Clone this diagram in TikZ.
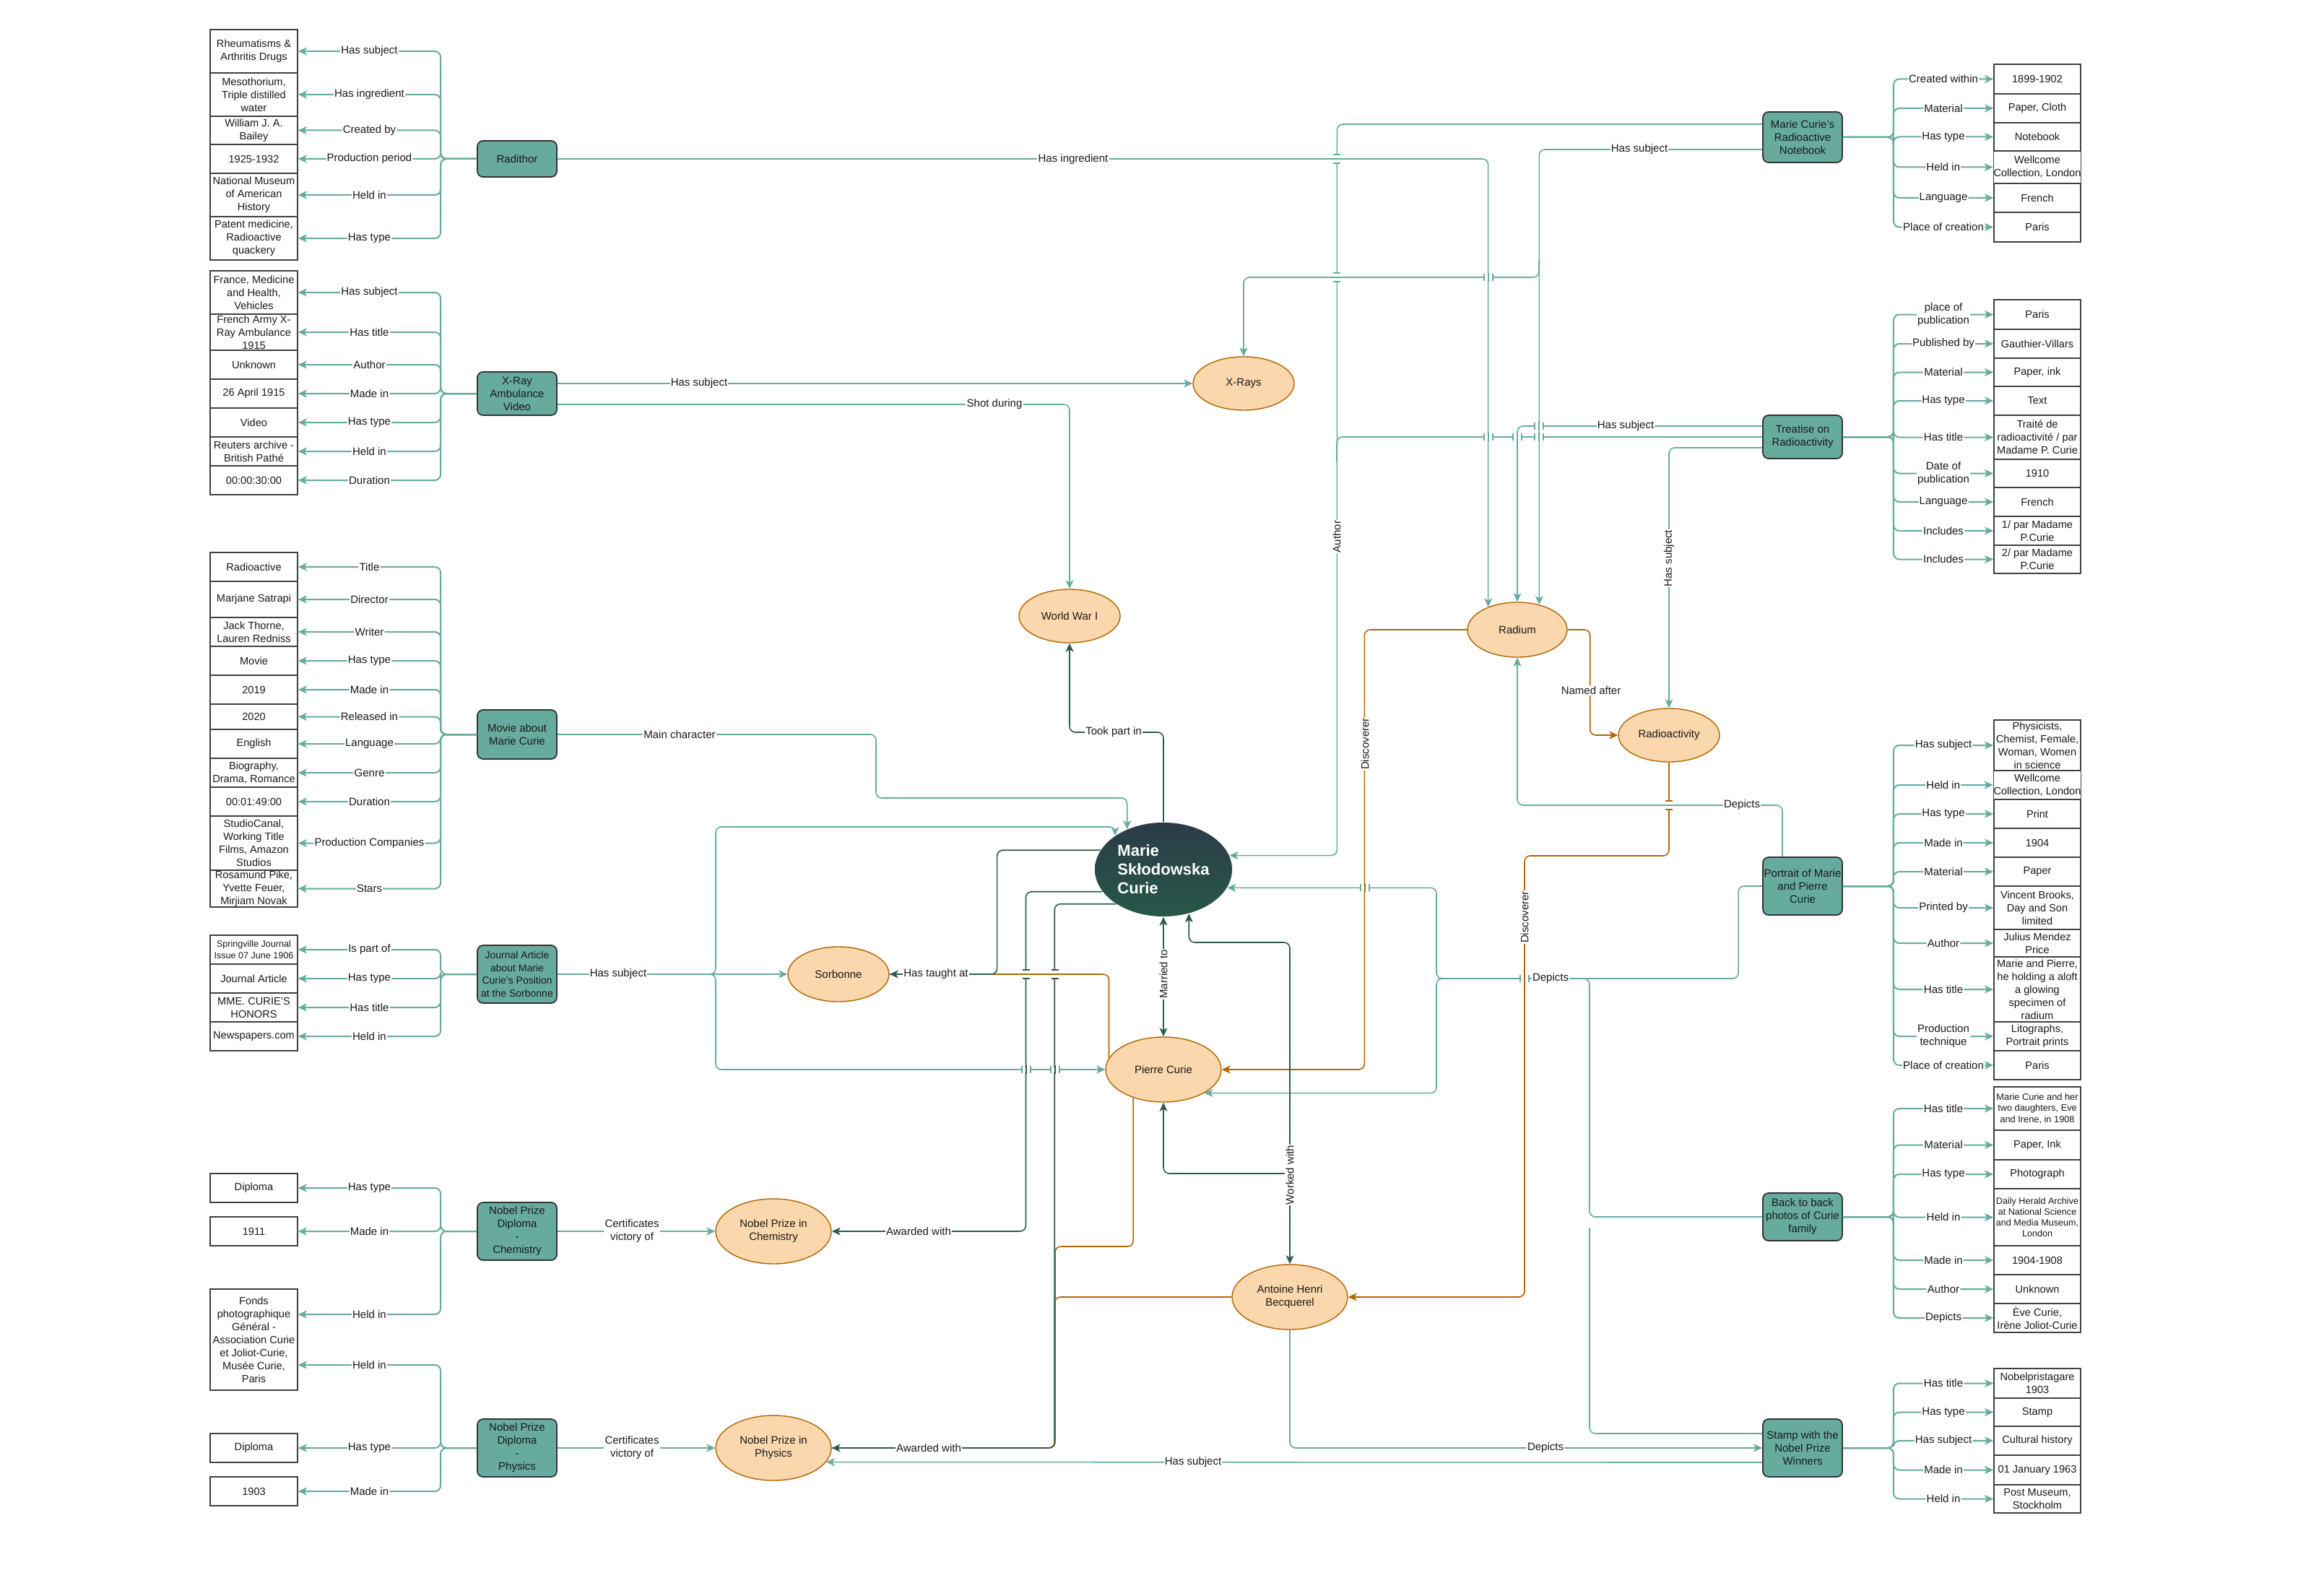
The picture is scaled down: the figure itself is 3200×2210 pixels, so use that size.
\documentclass[tikz,border=0pt]{standalone}
\usepackage{fontspec}
\setmainfont{Liberation Sans}
\usetikzlibrary{arrows.meta,shapes.geometric,calc}
\definecolor{tealE}{HTML}{67AB9F}
\definecolor{darkE}{HTML}{2E5B4F}
\definecolor{orngE}{HTML}{B46504}
\definecolor{peach}{HTML}{FAD7AC}
\definecolor{txtc}{HTML}{1A1A1A}
\definecolor{mtop}{HTML}{2B3B47}
\definecolor{mbot}{HTML}{27584A}
\tikzset{
 valbox/.style={draw=black!75, line width=0.9pt, fill=white, minimum width=60.5pt, inner sep=0pt, align=center, font=\fontsize{7.3}{9}\selectfont, text=txtc},
 rvb/.style={minimum width=60pt},
 grpnode/.style={draw=black!80, line width=0.9pt, fill=tealE, rounded corners=4pt, minimum width=55pt, inner sep=0pt, align=center, font=\fontsize{7.5}{9}\selectfont, text=txtc},
 ent/.style={ellipse, draw=orngE, line width=0.7pt, fill=peach, inner sep=0pt, align=center, font=\fontsize{7.5}{9}\selectfont, text=txtc},
 gedge/.style={draw=tealE, line width=1pt, rounded corners=4pt, ->},
 tline/.style={draw=tealE, line width=0.8pt, rounded corners=4pt},
 tedge/.style={tline, ->},
 dedge/.style={draw=darkE, line width=0.8pt, rounded corners=4pt, ->},
 oline/.style={draw=orngE, line width=0.8pt, rounded corners=4pt},
 oedge/.style={oline, ->},
 glbl/.style={fill=white, inner sep=0.6pt, font=\fontsize{7.5}{9}\selectfont, text=txtc, align=center},
 clbl/.style={glbl},
}
\newcommand\lb[4]{\node[valbox,minimum height={(#3-#2)*0.5pt}] (#1) at (351.5,{(#2+#3)/2}) {#4};}
\newcommand\rb[4]{\node[valbox,rvb,minimum height={(#3-#2)*0.5pt}] (#1) at (2821,{(#2+#3)/2}) {#4};}
\newcommand\ledge[3]{\draw[gedge] (#1.west) -- ++(-50,0) |- (#2.east) node[glbl,pos=0.75]{#3};}
\newcommand\redge[3]{\draw[gedge] (#1.east) -- ++(70,0) |- (#2.west) node[glbl,pos=0.75]{#3};}
\newcommand\hhop[4]{%
  \fill[white] ({#1-6},{#2-2.5}) rectangle ({#1+6},{#2+2.5});
  \draw[#4, line width=0.8pt] (#1,{#2-6}) -- (#1,{#2+6});
  \draw[#3, line width=0.8pt] ({#1-6},{#2-5}) -- ({#1-6},{#2+5}) ({#1+6},{#2-5}) -- ({#1+6},{#2+5});}
\newcommand\vhop[4]{%
  \fill[white] ({#1-2.5},{#2-6}) rectangle ({#1+2.5},{#2+6});
  \draw[#4, line width=0.8pt] ({#1-6},#2) -- ({#1+6},#2);
  \draw[#3, line width=0.8pt] ({#1-5},{#2-6}) -- ({#1+5},{#2-6}) ({#1-5},{#2+6}) -- ({#1+5},{#2+6});}
\begin{document}
\begin{tikzpicture}[x=0.5pt,y=-0.5pt,>={Stealth[length=6pt,width=5.5pt,inset=1.6pt]}]
\fill[white] (0,0) rectangle (3200,2210);
\useasboundingbox (0,0) rectangle (3200,2210);

% ---------- left groups ----------
\node[grpnode,minimum height=25pt] (radithor) at (716,220) {Radithor};
\lb{ra1}{41}{101}{Rheumatisms \&\\Arthritis Drugs}
\lb{ra2}{101}{161}{Mesothorium,\\Triple distilled\\water}
\lb{ra3}{161}{200}{William J. A.\\Bailey}
\lb{ra4}{200}{240}{1925-1932}
\lb{ra5}{240}{300}{National Museum\\of American\\History}
\lb{ra6}{300}{360}{Patent medicine,\\Radioactive\\quackery}

\node[grpnode,minimum height=30pt] (xrayvid) at (716,545) {X-Ray\\Ambulance\\Video};
\lb{xv1}{375}{435}{France, Medicine\\and Health,\\Vehicles}
\lb{xv2}{435}{485}{French Army X-\\Ray Ambulance\\1915}
\lb{xv3}{485}{525}{Unknown}
\lb{xv4}{525}{565}{26 April 1915}
\lb{xv5}{565}{605}{Video}
\lb{xv6}{605}{645}{Reuters archive -\\British Pathé}
\lb{xv7}{645}{685}{00:00:30:00}

\node[grpnode,minimum height=34pt] (movie) at (716,1017) {Movie about\\Marie Curie};
\lb{mv1}{765}{805}{Radioactive}
\lb{mv2}{805}{855}{Marjane Satrapi}
\lb{mv3}{855}{895}{Jack Thorne,\\Lauren Redniss}
\lb{mv4}{895}{935}{Movie}
\lb{mv5}{935}{975}{2019}
\lb{mv6}{975}{1010}{2020}
\lb{mv7}{1010}{1050}{English}
\lb{mv8}{1050}{1090}{Biography,\\Drama, Romance}
\lb{mv9}{1090}{1130}{00:01:49:00}
\lb{mv10}{1130}{1205}{StudioCanal,\\Working Title\\Films, Amazon\\Studios}
\lb{mv11}{1205}{1256}{Rosamund Pike,\\Yvette Feuer,\\Mirjiam Novak}

\node[grpnode,minimum height=40pt,font=\fontsize{7}{8.7}\selectfont] (journal) at (716,1349) {Journal Article\\about Marie\\Curie's Position\\at the Sorbonne};
\node[valbox,minimum height=20pt,font=\fontsize{6.3}{8}\selectfont] (jo1) at (351.5,1315) {Springville Journal\\Issue 07 June 1906};
\lb{jo2}{1335}{1375}{Journal Article}
\lb{jo3}{1375}{1415}{MME. CURIE'S\\HONORS}
\lb{jo4}{1415}{1455}{Newspapers.com}

\node[grpnode,minimum height=40pt] (dipchem) at (716,1705) {Nobel Prize\\Diploma\\-\\Chemistry};
\lb{dc1}{1625}{1665}{Diploma}
\lb{dc2}{1685}{1725}{1911}
\lb{fonds}{1785}{1925}{Fonds\\photographique\\Général -\\Association Curie\\et Joliot-Curie,\\Musée Curie,\\Paris}
\node[grpnode,minimum height=40pt] (dipphys) at (716,2005) {Nobel Prize\\Diploma\\-\\Physics};
\lb{dp1}{1985}{2025}{Diploma}
\lb{dp2}{2045}{2085}{1903}

% ---------- right groups ----------
\node[grpnode,minimum height=35pt] (notebook) at (2496,190) {Marie Curie's\\Radioactive\\Notebook};
\rb{nb1}{89}{130}{1899-1902}
\rb{nb2}{130}{170}{Paper, Cloth}
\rb{nb3}{170}{209}{Notebook}
\rb{nb4}{209}{254}{Wellcome\\Collection, London}
\rb{nb5}{254}{294}{French}
\rb{nb6}{294}{335}{Paris}

\node[grpnode,minimum height=30pt] (treatise) at (2496,605) {Treatise on\\Radioactivity};
\rb{tr1}{415}{456}{Paris}
\rb{tr2}{456}{496}{Gauthier-Villars}
\rb{tr3}{496}{535}{Paper, ink}
\rb{tr4}{535}{575}{Text}
\rb{tr5}{575}{636}{Traité de\\radioactivité / par\\Madame P. Curie}
\rb{tr6}{636}{675}{1910}
\rb{tr7}{675}{715}{French}
\rb{tr8}{715}{755}{1/ par Madame\\P.Curie}
\rb{tr9}{755}{794}{2/ par Madame\\P.Curie}

\node[grpnode,minimum height=40pt] (portrait) at (2496,1227) {Portrait of Marie\\and Pierre\\Curie};
\rb{po1}{997}{1067}{Physicists,\\Chemist, Female,\\Woman, Women\\in science}
\rb{po2}{1067}{1107}{Wellcome\\Collection, London}
\rb{po3}{1107}{1147}{Print}
\rb{po4}{1147}{1187}{1904}
\rb{po5}{1187}{1227}{Paper}
\rb{po6}{1227}{1287}{Vincent Brooks,\\Day and Son\\limited}
\rb{po7}{1287}{1325}{Julius Mendez\\Price}
\rb{po8}{1325}{1415}{Marie and Pierre,\\he holding a aloft\\a glowing\\specimen of\\radium}
\rb{po9}{1415}{1455}{Litographs,\\Portrait prints}
\rb{po10}{1455}{1495}{Paris}

\node[grpnode,minimum height=33pt] (backphoto) at (2496,1685) {Back to back\\photos of Curie\\family};
\node[valbox,rvb,minimum height=30pt,font=\fontsize{6.4}{7.8}\selectfont] (bp1) at (2821,1535) {Marie Curie and her\\two daughters, Eve\\and Irene, in 1908};
\rb{bp2}{1565}{1606}{Paper, Ink}
\rb{bp3}{1606}{1646}{Photograph}
\node[valbox,rvb,minimum height=39.5pt,font=\fontsize{6.3}{7.6}\selectfont] (bp4) at (2821,1685.5) {Daily Herald Archive\\at National Science\\and Media Museum,\\London};
\rb{bp5}{1725}{1765}{1904-1908}
\rb{bp6}{1765}{1805}{Unknown}
\rb{bp7}{1805}{1845}{Ève Curie,\\Irène Joliot-Curie}

\node[grpnode,minimum height=40pt] (stamp) at (2496,2005) {Stamp with the\\Nobel Prize\\Winners};
\rb{st1}{1895}{1936}{Nobelpristagare\\1903}
\rb{st2}{1936}{1975}{Stamp}
\rb{st3}{1975}{2015}{Cultural history}
\rb{st4}{2015}{2056}{01 January 1963}
\rb{st5}{2056}{2095}{Post Museum,\\Stockholm}

% ---------- entities ----------
\node[ent, draw=none, top color=mtop, bottom color=mbot, minimum width=95pt, minimum height=65pt, text=white, font=\bfseries\fontsize{11}{13}\selectfont, align=left] (marie) at (1611,1204) {Marie\\Skłodowska\\Curie};
\node[ent, minimum width=80pt, minimum height=45pt] (pierre) at (1611,1481) {Pierre Curie};
\node[ent, minimum width=80pt, minimum height=45pt] (antoine) at (1786,1796) {Antoine Henri\\Becquerel};
\node[ent, minimum width=69pt, minimum height=38pt] (radium) at (2101,872) {Radium};
\node[ent, minimum width=70pt, minimum height=37pt] (radioact) at (2311,1018) {Radioactivity};
\node[ent, minimum width=70pt, minimum height=37pt] (xrays) at (1722,531) {X-Rays};
\node[ent, minimum width=70pt, minimum height=37pt] (wwi) at (1481,853) {World War I};
\node[ent, minimum width=70pt, minimum height=38pt] (sorbonne) at (1161,1349) {Sorbonne};
\node[ent, minimum width=80pt, minimum height=45pt] (nobchem) at (1071,1705) {Nobel Prize in\\Chemistry};
\node[ent, minimum width=80pt, minimum height=45pt] (nobphys) at (1071,2005) {Nobel Prize in\\Physics};

% ---------- group edges ----------
\ledge{radithor}{ra1}{Has subject}
\ledge{radithor}{ra2}{Has ingredient}
\ledge{radithor}{ra3}{Created by}
\ledge{radithor}{ra4}{Production period}
\ledge{radithor}{ra5}{Held in}
\ledge{radithor}{ra6}{Has type}

\ledge{xrayvid}{xv1}{Has subject}
\ledge{xrayvid}{xv2}{Has title}
\ledge{xrayvid}{xv3}{Author}
\ledge{xrayvid}{xv4}{Made in}
\ledge{xrayvid}{xv5}{Has type}
\ledge{xrayvid}{xv6}{Held in}
\ledge{xrayvid}{xv7}{Duration}

\ledge{movie}{mv1}{Title}
\ledge{movie}{mv2}{Director}
\ledge{movie}{mv3}{Writer}
\ledge{movie}{mv4}{Has type}
\ledge{movie}{mv5}{Made in}
\ledge{movie}{mv6}{Released in}
\ledge{movie}{mv7}{Language}
\ledge{movie}{mv8}{Genre}
\ledge{movie}{mv9}{Duration}
\ledge{movie}{mv10}{Production Companies}
\ledge{movie}{mv11}{Stars}

\ledge{journal}{jo1}{Is part of}
\ledge{journal}{jo2}{Has type}
\ledge{journal}{jo3}{Has title}
\ledge{journal}{jo4}{Held in}

\ledge{dipchem}{dc1}{Has type}
\ledge{dipchem}{dc2}{Made in}
\draw[gedge] (dipchem.west) -- ++(-50,0) |- ($(fonds.east)+(0,-35)$) node[glbl,pos=0.75]{Held in};
\draw[gedge] (dipphys.west) -- ++(-50,0) |- ($(fonds.east)+(0,35)$) node[glbl,pos=0.75]{Held in};
\ledge{dipphys}{dp1}{Has type}
\ledge{dipphys}{dp2}{Made in}

\redge{notebook}{nb1}{Created within}
\redge{notebook}{nb2}{Material}
\redge{notebook}{nb3}{Has type}
\redge{notebook}{nb4}{Held in}
\redge{notebook}{nb5}{Language}
\redge{notebook}{nb6}{Place of creation}

\redge{treatise}{tr1}{place of\\publication}
\redge{treatise}{tr2}{Published by}
\redge{treatise}{tr3}{Material}
\redge{treatise}{tr4}{Has type}
\redge{treatise}{tr5}{Has title}
\redge{treatise}{tr6}{Date of\\publication}
\redge{treatise}{tr7}{Language}
\redge{treatise}{tr8}{Includes}
\redge{treatise}{tr9}{Includes}

\redge{portrait}{po1}{Has subject}
\redge{portrait}{po2}{Held in}
\redge{portrait}{po3}{Has type}
\redge{portrait}{po4}{Made in}
\redge{portrait}{po5}{Material}
\redge{portrait}{po6}{Printed by}
\redge{portrait}{po7}{Author}
\redge{portrait}{po8}{Has title}
\redge{portrait}{po9}{Production\\technique}
\redge{portrait}{po10}{Place of creation}

\redge{backphoto}{bp1}{Has title}
\redge{backphoto}{bp2}{Material}
\redge{backphoto}{bp3}{Has type}
\redge{backphoto}{bp4}{Held in}
\redge{backphoto}{bp5}{Made in}
\redge{backphoto}{bp6}{Author}
\redge{backphoto}{bp7}{Depicts}

\redge{stamp}{st1}{Has title}
\redge{stamp}{st2}{Has type}
\redge{stamp}{st3}{Has subject}
\redge{stamp}{st4}{Made in}
\redge{stamp}{st5}{Held in}

% ---------- central teal edges ----------
\draw[tedge] (radithor.east) -| (radium.142);
\draw[tedge] (xrayvid.east |- xrays.west) -- (xrays.west);
\draw[tedge] ([yshift=-7.5pt]xrayvid.east) -| (wwi.north);
\draw[tedge] (movie.east) -| (1213,1105) -| (marie.132);
\draw[tedge] (journal.east) -- (sorbonne.west);
\coordinate (jJ) at (971,1349);
\draw[tedge] (jJ) -- ++(20,0) |- (1544,1145) -- (marie.145.5);
\draw[tedge] (jJ) -- ++(20,0) |- (pierre.west);
\draw[tedge] ([yshift=9pt]notebook.west) -| ($(marie.12)+(149,0)$) -- (marie.12);
\draw[tline] (treatise.west) -| (1851,640);
\draw[tedge] ([yshift=-8.5pt]notebook.west) -| (radium.49);
\coordinate (jN) at (2131,360);
\draw[tedge] (jN) -- (2131,384) -| (xrays.north);
\draw[tedge] ([yshift=7.5pt]treatise.west) -| (radium.north);
\draw[tedge] ([yshift=-7.5pt]treatise.west) -| (radioact.north);
\draw[tedge] ([xshift=-14pt]portrait.north) |- (2300,1115) -| (radium.south);
\coordinate (jD) at (2009,1355);
\draw[tline] (portrait.west) -- ++(-33,0) |- (jD);
\draw[tedge] (jD) -- ++(-20,0) |- (marie.-16);
\draw[tedge] (jD) -- ++(-20,0) |- (pierre.-30);
\draw[tline] (backphoto.west) -| (2201,1355) -- (2170,1355);
\draw[tline] ([yshift=10pt]stamp.west) -| (2201,1700);
\draw[tedge] (antoine.south) |- (stamp.west);
\draw[tedge] ([yshift=-10pt]stamp.west) -- (nobphys.-15.6);
\draw[tedge] (dipchem.east) -- (nobchem.west);
\draw[tedge] (dipphys.east) -- (nobphys.west);

% ---------- orange edges ----------
\draw[oedge] (radium.west) -- ++(-142,0) |- (pierre.east);
\draw[oedge] (radium.east) -- ++(31,0) |- (radioact.west);
\draw[oedge] (radioact.south) |- (2111,1185) |- (antoine.east);
\draw[oline] (pierre.168) |- (sorbonne.east);
\draw[oline] (pierre.223) |- (1461,1726) |- (nobphys.east);
\draw[oline] (antoine.west) -- ++(-245,0) |- (nobphys.east);

% ---------- dark edges ----------
\draw[dedge] (marie.north) |- (1500,1014) -| (wwi.south);
\draw[dedge,<->] (marie.south) -- (pierre.north);
\draw[dedge] (marie.163) -- ++(-143,0) |- (sorbonne.east);
\draw[dedge] (marie.200) -- ++(-106,0) |- (nobchem.east);
\draw[dedge] (marie.216) -- ++(-85,0) |- (nobphys.east);
\draw[dedge,<->] (marie.-60) |- (1700,1305) -| (antoine.north);
\coordinate (jW) at (1786,1625);
\draw[dedge] (jW) -| (pierre.south);

% ---------- line hops ----------
\vhop{1851}{220}{tealE}{tealE}
\vhop{1851}{384}{tealE}{tealE}
\hhop{2061}{384}{tealE}{tealE}
\hhop{2061}{605}{tealE}{tealE}
\hhop{2101}{605}{tealE}{tealE}
\hhop{2131}{605}{tealE}{tealE}
\hhop{2131}{590}{tealE}{tealE}
\hhop{1890}{1229}{tealE}{orngE}
\hhop{2111}{1355}{tealE}{orngE}
\vhop{2311}{1115}{orngE}{tealE}
\vhop{1421}{1349}{darkE}{orngE}
\vhop{1461}{1349}{darkE}{orngE}
\hhop{1421}{1481}{tealE}{darkE}
\hhop{1461}{1481}{tealE}{darkE}

% ---------- central labels ----------
\node[clbl] (L1) at (1486,221) {Has ingredient};
\node[clbl] (L2) at (968,531) {Has subject};
\node[clbl] (L3) at (1377,560) {Shot during};
\node[clbl] (L4) at (941,1017) {Main character};
\node[clbl] (L5) at (856,1349) {Has subject};
\node[clbl,rotate=90] (L6) at (1851,743) {Author};
\node[clbl] (L7) at (2270,207) {Has subject};
\node[clbl] (L8) at (2251,590) {Has subject};
\node[clbl,rotate=90] (L9) at (2311,773) {Has subject};
\node[clbl] (L10) at (2412,1115) {Depicts};
\node[clbl] (L11) at (2147,1355) {Depicts};
\node[clbl] (L12) at (2140,2005) {Depicts};
\node[clbl] (L13) at (1652,2025) {Has subject};
\node[clbl] (L14) at (875,1705) {Certificates\\victory of};
\node[clbl] (L15) at (875,2005) {Certificates\\victory of};
\node[clbl,rotate=90] (L16) at (1890,1030) {Discoverer};
\node[clbl] (L17) at (2203,956) {Named after};
\node[clbl,rotate=90] (L18) at (2111,1270) {Discoverer};
\node[clbl] (L19) at (1542,1014) {Took part in};
\node[clbl,rotate=90] (L20) at (1611,1349) {Married to};
\node[clbl] (L21) at (1296,1349) {Has taught at};
\node[clbl] (L22) at (1272,1705) {Awarded with};
\node[clbl] (L23) at (1286,2005) {Awarded with};
\node[clbl,rotate=90] (L24) at (1786,1627) {Worked with};
\end{tikzpicture}
\end{document}
